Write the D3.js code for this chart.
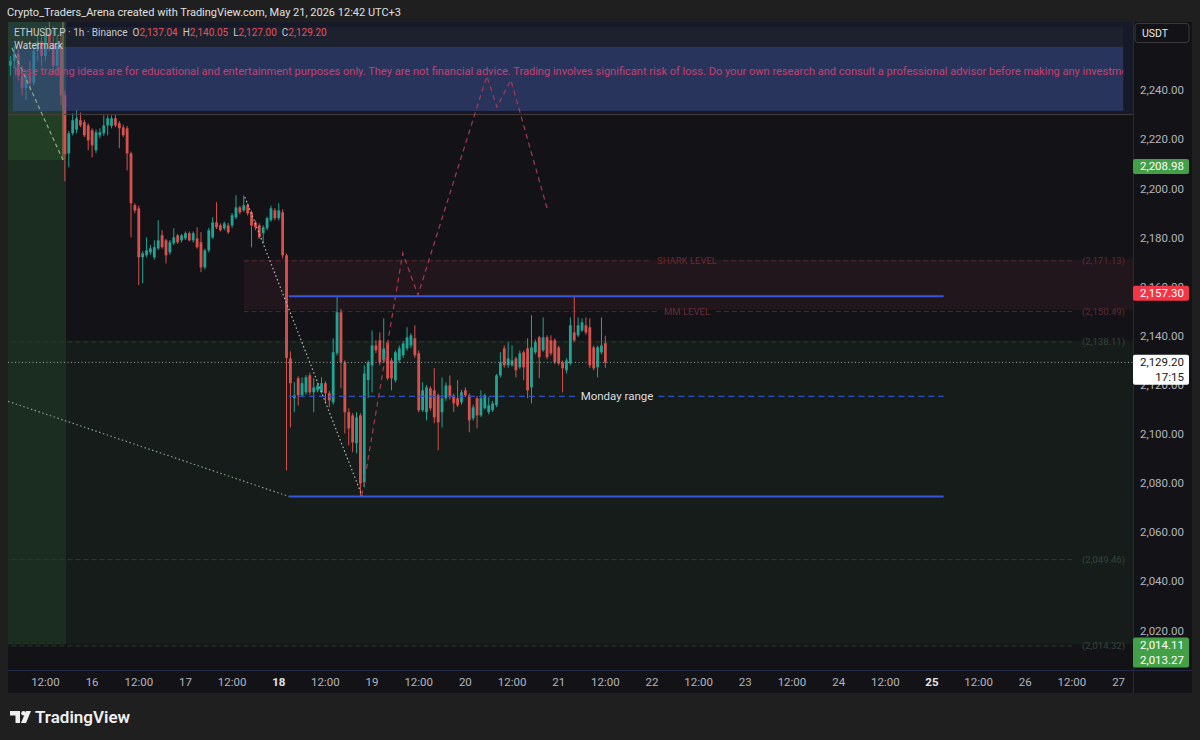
<!DOCTYPE html>
<html><head><meta charset="utf-8">
<script src="https://cdn.jsdelivr.net/npm/d3@7"></script>
<style>
html,body{margin:0;padding:0;background:#1f1f1f;}
svg{display:block;font-family:Roboto,"Noto Sans",Arial,sans-serif;}
</style></head><body>
<svg id="c" width="1200" height="740"></svg>
<script>
// ---------------- DATA ----------------
const firstBarHour = 3; // bars are hourly, first one May 15 03:00 (hours counted from May 15 00:00)
const opens = [2250,2252,2255,2246,2241,2246,2243,2256,2260,2254,2263,2259,2250,2258,2238,
2214.3,2222.5,2224,2227.8,2227,2225.7,2223.7,2215.6,2221.7,2222.5,2225.7,2225.5,2228.6,2226.6,2224.9,2224.5,2214.3,2193.2,2191.9,2172,2172.8,2174,2172,2175.6,2181,2178.9,2174,2177.7,2180.9,2178.9,2179.7,2181.8,2178.9,2179.7,2178.1,2167.9,2174.8,2180.1,2186.2,2185,2183.8,2185,2185,2188.3,2192.3,2191.1,2193.2,2190.3,2186.2,2185,2181.8,2183.8,2187.1,2191.1,2187.9,2190.3,
2172.8,2130.8,2114.6,2122.7,2115.8,2117,2123.9,2117,2117.8,2117,2120.7,2116.6,2112.9,2132.9,2149.6,2129.2,2108.9,2107.6,2096.2,2107.6,2080.3,2122,2128,2136.1,2138.2,2130,2137.4,2130,2121.9,2130,2132.1,2134.9,2136.1,2139,2132.9,2109.7,2108.9,2118.6,2117.8,2115.8,2108.9,2114.6,2119.8,2115.8,2114.6,2112.9,2117.8,2115.8,2106.4,2114.6,2107.6,2110.5,2108.9,2109.7,2111.7,2123.9,2134.9,2128,2128,2130.8,2127.2,2133.3,2134.9,2119,2133.3,2139.4,2134.1,2139.4,2138.2,2138.2,2135.3,2129.2,2126,2128.8,2141.4,2140.2,2142.2,2144.3,2143.5,2135.3,2127.2,2133.3,2137.04];
const highs = [2254,2258,2257,2250,2248,2252,2258,2264,2262,2266,2268,2266,2262,2264,2240,
2223.5,2230.6,2231.9,2231,2228,2226.5,2224.5,2224,2224.5,2229.8,2229.8,2229.8,2230,2227.5,2226,2225.5,2215,2194,2193,2174.5,2180.1,2177,2178.9,2187.1,2183,2179.5,2179,2183.8,2181.5,2181.5,2182.5,2182.5,2182.5,2184.2,2182.2,2175.5,2184,2188.3,2194.4,2185.8,2186.5,2186,2190,2197.2,2193,2197.2,2194,2191,2187,2185.8,2185,2188.5,2193,2192,2194,2191.5,
2173.5,2133.7,2121.1,2123.5,2123.1,2124,2125,2122.7,2121,2123.1,2121.5,2117.5,2139,2156.1,2151,2130,2110.5,2108.5,2108.9,2108.5,2128,2130,2142.2,2138.2,2141.4,2147.1,2138,2131,2134,2136,2138,2143.5,2141,2144.3,2134,2121.1,2120,2119.5,2126.8,2116.5,2123.1,2121,2123.9,2116.5,2121.9,2118,2119,2116.5,2112,2115.5,2117.8,2116.5,2115,2113.5,2124.5,2133.3,2136.1,2137.4,2136.1,2131.5,2134,2134,2139,2148.4,2138.5,2140,2147.5,2140.2,2140.2,2139,2136,2130,2131,2147.5,2156.1,2147.5,2147.1,2147.5,2147.1,2136,2136,2147.5,2140.05];
const lows = [2246,2249,2244,2238,2236,2240,2242,2252,2250,2252,2256,2247,2246,2234,2203,
2208.6,2221.7,2222.5,2225,2221,2215.6,2212.7,2214.5,2220.5,2221.5,2221.7,2224.5,2225,2216.4,2221,2207.4,2180.1,2190,2160.6,2161.4,2172,2173,2171,2175,2175.5,2169.5,2173,2177,2177.5,2178,2179,2178.5,2178,2175.5,2165.9,2167,2174,2179.5,2183.5,2182.5,2183,2181.5,2184,2187.5,2189.5,2190.5,2189,2176.1,2183,2179.5,2177.7,2183,2186.5,2187,2187,2171.5,
2085.2,2102.7,2108.9,2111.7,2115,2116,2116,2108.9,2117,2116.5,2112.5,2110.9,2112,2132,2118.6,2100.3,2095.4,2092.6,2092.2,2074.6,2078.3,2114.6,2117,2133,2128,2129,2121.9,2117.8,2121,2129,2131,2134,2135,2131,2108.9,2109,2105.6,2109.5,2104.4,2093.4,2102.7,2113.5,2114,2108.9,2111,2112,2115,2100.7,2105.5,2102.3,2107,2110,2108,2109,2111,2123,2127,2127,2127.5,2123.1,2126.5,2121.9,2114.6,2112.5,2132.5,2122.7,2133.5,2130.5,2132,2128.5,2128,2117,2124.7,2128,2137.5,2139.5,2141.5,2140.5,2127,2126,2123.1,2132.5,2127.00];
const closes = [2252,2255,2246,2241,2246,2243,2256,2260,2254,2263,2259,2250,2258,2238,2214,
2222.5,2227.8,2228.6,2225.7,2221.7,2219.6,2217.6,2222.9,2222.9,2225.7,2228.6,2228.6,2225.7,2224.5,2221.7,2214.3,2194,2191.1,2172,2173.6,2174.8,2175.6,2176.1,2178.9,2176.1,2172.8,2178.1,2180.1,2178.1,2180.9,2181.8,2178.9,2181.8,2176.1,2167.9,2174.8,2183,2186.2,2184.2,2183,2185.8,2182.2,2189.1,2192.3,2190.3,2193.2,2189.9,2185,2184.2,2180.1,2184.2,2187.9,2191.9,2187.9,2191.1,2172.8,
2131,2120.7,2115.8,2115.8,2120.7,2123.1,2117,2119,2119.8,2120.7,2116.6,2113.7,2133.3,2149.6,2129.2,2108.9,2102.3,2096.6,2106.8,2079.9,2124.7,2129.2,2136.1,2134.1,2129.2,2134.9,2122.7,2122.7,2133.3,2134.9,2136.9,2139.4,2140.2,2132.1,2109.7,2117.8,2119,2110.5,2106.8,2104.8,2114.6,2119.8,2115,2112.5,2111.7,2117,2115.8,2105.6,2110.9,2107.6,2114.6,2115.8,2111.7,2112.5,2123.9,2129.2,2128,2130.8,2130,2126,2132.9,2127.2,2117.8,2135.3,2137.4,2131.3,2139.4,2131.3,2132.9,2129.2,2128.8,2126.8,2130,2144.3,2138.2,2144.3,2145.5,2141.4,2128,2126.8,2135.3,2136.1,2129.20];

const priceTicks = [2020,2040,2060,2080,2100,2120,2140,2160,2180,2200,2220,2240];
const timeTickLabels = ["12:00","16","12:00","17","12:00","18","12:00","19","12:00","20","12:00","21","12:00","22","12:00","23","12:00","24","12:00","25","12:00","26","12:00","27"];
const boldTimeLabels = ["18","25"];

const levelNames  = ["SHARK LEVEL","MM LEVEL","","",""];
const levelValues = [2171.13, 2150.49, 2138.11, 2049.46, 2014.32];
const levelStartHour = [63, 63, -5, -5, -5];

const rangeHigh = 2156.1, rangeLow = 2074.6, rangeMid = 2115.35;
const rangeStartHour = 74.6, rangeEndHour = 243;

const whiteTrendHours = [63.3, 93.4], whiteTrendPrices = [2196.5, 2075.0];
const greenTrendHours = [2.4, 74.6], greenTrendPrices = [2113.3, 2074.6];
const greenDashHours = [3.4, 16.5], greenDashPrices = [2257.2, 2211.6];
const projHours  = [93.4, 103.9, 107.8, 125.5, 128.1, 131.7, 141.0];
const projPrices = [2075.0, 2173.7, 2156.6, 2245.8, 2233.2, 2244.2, 2192.0];

const lastPrice = 2129.20, lastCountdown = "17:15";
const tagGreenTop = 2208.98, tagRed = 2157.30, tagGreenBottom = [2014.11, 2013.27];
const legendValues = [["O",2137.04],["H",2140.05],["L",2127.00],["C",2129.20]];

// ---------------- LAYOUT ----------------
const svg = d3.select("#c");
const L = 8, R = 1192, TOP = 22, BOT = 693, AX = 1133, TAXIS = 670;
const H0 = Date.UTC(2026,4,15,0,0);
const T = h => new Date(H0 + h*3600e3);
const x = d3.scaleUtc().domain([T(0), T(288)]).range([-1.2, 1118.6]);
const y = d3.scaleLinear().domain([2020, 2240]).range([630.5, 90.3]);
const xh = h => x(T(h));
const fmt = d3.format(",.2f");

const UP = "#22a393", DN = "#d9514e";

svg.append("rect").attr("width",1200).attr("height",740).attr("fill","#1f1f1f");
svg.append("rect").attr("x",L).attr("y",TOP).attr("width",R-L).attr("height",BOT-TOP).attr("fill","#131317");

const defs = svg.append("defs");
defs.append("clipPath").attr("id","plot").append("rect").attr("x",L).attr("y",TOP).attr("width",AX-L).attr("height",TAXIS-TOP);
defs.append("clipPath").attr("id","boxclip").append("rect").attr("x",xh(3.6)).attr("y",TOP).attr("width",xh(289.2)-xh(3.6)).attr("height",200);

const g = svg.append("g").attr("clip-path","url(#plot)");

// zones
g.append("rect").attr("x",L).attr("width",AX-L)
  .attr("y",y(levelValues[2])).attr("height",y(levelValues[4])-y(levelValues[2])).attr("fill","#151c1a");
g.append("rect").attr("x",xh(63)).attr("width",AX-xh(63))
  .attr("y",y(levelValues[0])).attr("height",y(levelValues[1])-y(levelValues[0])).attr("fill","#21161c");
// left green strip
g.append("rect").attr("x",L).attr("width",xh(17.3)-L).attr("y",TOP).attr("height",y(levelValues[4])-TOP).attr("fill","#1b2c20");
g.append("rect").attr("x",L).attr("width",xh(17.3)-L).attr("y",TOP).attr("height",y(2211.6)-TOP).attr("fill","#223f26");

// level lines
levelValues.forEach((v,i)=>{
  const red = i<2;
  const col = red ? "#5a2530" : "#2e3b33";
  const yy = y(v)+1.5;
  const x0 = xh(levelStartHour[i]), x1 = 1072;
  if (levelNames[i]) {
    const cx = xh(177);
    const t = g.append("text").attr("x",cx).attr("y",yy+3.5).attr("text-anchor","middle")
      .attr("font-size",9.5).attr("fill",red?"#6b2a36":"#3a4a3e").text(levelNames[i]);
    const w = t.node().getComputedTextLength();
    g.append("line").attr("x1",x0).attr("x2",cx-w/2-6).attr("y1",yy).attr("y2",yy).attr("stroke",col).attr("stroke-dasharray","5,3");
    g.append("line").attr("x1",cx+w/2+6).attr("x2",x1).attr("y1",yy).attr("y2",yy).attr("stroke",col).attr("stroke-dasharray","5,3");
  } else {
    g.append("line").attr("x1",x0).attr("x2",x1).attr("y1",yy).attr("y2",yy).attr("stroke",col).attr("stroke-dasharray","5,3");
  }
  g.append("text").attr("x",1125).attr("y",yy+3.5).attr("text-anchor","end").attr("font-size",9.5)
    .attr("fill",red?"#5e2a34":"#34453a").text("("+fmt(v)+")");
});

// candles
const n = Math.min(opens.length, highs.length, lows.length, closes.length);
const bars = d3.range(n).map(i=>({t:T(firstBarHour+i),o:opens[i],h:highs[i],l:lows[i],c:closes[i]}));
const cg = g.append("g");
bars.forEach(b=>{
  const col = b.c>=b.o ? UP : DN;
  const cx = x(b.t);
  cg.append("line").attr("x1",cx).attr("x2",cx).attr("y1",y(b.h)).attr("y2",y(b.l)).attr("stroke",col).attr("stroke-width",1);
  const top = y(Math.max(b.o,b.c)), bot = y(Math.min(b.o,b.c));
  cg.append("rect").attr("x",cx-1.4).attr("width",2.8).attr("y",top).attr("height",Math.max(1,bot-top)).attr("fill",col);
});

// top band + disclaimer box (drawn over candles, semi transparent)
g.append("rect").attr("x",L).attr("y",TOP).attr("width",AX-L).attr("height",y(2230.3)-TOP).attr("fill","rgba(40,60,130,0.16)");
g.append("rect").attr("x",L).attr("y",TOP+5).attr("width",xh(289.2)-L).attr("height",20).attr("fill","rgba(60,60,66,0.22)");
g.append("rect").attr("x",xh(3.6)).attr("y",y(2257.7)).attr("width",xh(289.2)-xh(3.6)).attr("height",y(2231.6)-y(2257.7)).attr("fill","rgba(72,92,172,0.40)");
g.append("line").attr("x1",L).attr("x2",AX).attr("y1",y(2230.3)+0.5).attr("y2",y(2230.3)+0.5).attr("stroke","#4a3e3c");
g.append("line").attr("x1",xh(16.5)).attr("x2",xh(16.5)).attr("y1",TOP).attr("y2",y(2211.6)).attr("stroke","#8a7648").attr("stroke-width",1.2);

const disc = "These trading ideas are for educational and entertainment purposes only. They are not financial advice. Trading involves significant risk of loss. Do your own research and consult a professional advisor before making any investment decisions.";
const visiblePart = "hese trading ideas are for educational and entertainment purposes only. They are not financial advice. Trading involves significant risk of loss. Do your own research and consult a professional advisor before making any investm";
const tmp = svg.append("text").attr("font-size",12).text(visiblePart);
const wv = tmp.node().getComputedTextLength();
const fs = 12*(1108/wv);
tmp.attr("font-size",fs).text("T");
const wT = tmp.node().getComputedTextLength(); tmp.remove();
svg.append("g").attr("clip-path","url(#boxclip)").append("text")
  .attr("x",14-wT).attr("y",75).attr("font-size",fs).attr("fill","#c4406f").text(disc);

// range lines
const rx0 = xh(rangeStartHour), rx1 = xh(rangeEndHour);
g.append("line").attr("x1",rx0).attr("x2",rx1).attr("y1",y(rangeHigh)).attr("y2",y(rangeHigh)).attr("stroke","#3656e0").attr("stroke-width",2);
g.append("line").attr("x1",rx0).attr("x2",rx1).attr("y1",y(rangeLow)).attr("y2",y(rangeLow)).attr("stroke","#3656e0").attr("stroke-width",2);
const mcx = xh(159);
const mt = g.append("text").attr("x",mcx).attr("y",y(rangeMid)+4).attr("text-anchor","middle")
  .attr("font-size",11.5).attr("fill","#dcdde2").text("Monday range");
const mw = mt.node().getComputedTextLength();
g.append("line").attr("x1",rx0).attr("x2",mcx-mw/2-5).attr("y1",y(rangeMid)).attr("y2",y(rangeMid)).attr("stroke","#2f4fc4").attr("stroke-width",1.2).attr("stroke-dasharray","6,4");
g.append("line").attr("x1",mcx+mw/2+5).attr("x2",rx1).attr("y1",y(rangeMid)).attr("y2",y(rangeMid)).attr("stroke","#2f4fc4").attr("stroke-width",1.2).attr("stroke-dasharray","6,4");

// trend lines
const line = d3.line().x(d=>xh(d[0])).y(d=>y(d[1]));
g.append("path").attr("d",line(d3.zip(whiteTrendHours,whiteTrendPrices))).attr("fill","none").attr("stroke","#b8b8bc").attr("stroke-width",1.2).attr("stroke-dasharray","1.5,2.5");
g.append("path").attr("d",line(d3.zip(greenTrendHours,greenTrendPrices))).attr("fill","none").attr("stroke","#8aa08e").attr("stroke-width",1.2).attr("stroke-dasharray","1.5,2.5");
g.append("path").attr("d",line(d3.zip(greenDashHours,greenDashPrices))).attr("fill","none").attr("stroke","#7fb07f").attr("stroke-width",1.2).attr("stroke-dasharray","4,3");
g.append("path").attr("d",line(d3.zip(projHours,projPrices))).attr("fill","none").attr("stroke","#a8384f").attr("stroke-width",1.2).attr("stroke-dasharray","5,4");

// last price line
g.append("line").attr("x1",L).attr("x2",AX).attr("y1",y(lastPrice)).attr("y2",y(lastPrice)).attr("stroke","#a0a3ab").attr("stroke-dasharray","1,2.5");

// legend
const lg = svg.append("text").attr("x",14).attr("y",36).attr("font-size",10).attr("fill","#c9cbd1").style("white-space","pre");
lg.append("tspan").text("ETHUSDT.P · 1h · Binance ");
legendValues.forEach(([k,v])=>{
  lg.append("tspan").attr("fill","#c9cbd1").text(" "+k);
  lg.append("tspan").attr("fill","#e2525c").text(fmt(v)+" ");
});
svg.append("text").attr("x",14).attr("y",48.5).attr("font-size",10).attr("fill","#cfd1d6").text("Watermark");

// axes frame
svg.append("line").attr("x1",AX+0.5).attr("x2",AX+0.5).attr("y1",TOP).attr("y2",BOT).attr("stroke","#222944");
svg.append("line").attr("x1",L).attr("x2",R).attr("y1",TAXIS+0.5).attr("y2",TAXIS+0.5).attr("stroke","#222944");

// price axis
priceTicks.forEach(p=>{
  svg.append("text").attr("x",1184).attr("y",y(p)+4).attr("text-anchor","end").attr("font-size",11.5).attr("fill","#b2b5be").text(fmt(p));
});
function tag(val, lines, fill, txt){
  const h = lines.length*15;
  const top = y(val) - 7.5;
  svg.append("rect").attr("x",1133).attr("y",top).attr("width",56).attr("height",h).attr("rx",2).attr("fill",fill);
  lines.forEach((s,i)=>svg.append("text").attr("x",1184).attr("y",top+11.5+i*15).attr("text-anchor","end").attr("font-size",11.5).attr("fill",txt).text(s));
}
tag(tagGreenTop,[fmt(tagGreenTop)],"#43a047","#ffffff");
tag(tagRed,[fmt(tagRed)],"#f23645","#ffffff");
tag(lastPrice,[fmt(lastPrice),lastCountdown],"#ffffff","#131722");
tag(tagGreenBottom[0],tagGreenBottom.map(fmt),"#43a047","#ffffff");
svg.append("rect").attr("x",1135).attr("y",23.5).attr("width",54).attr("height",19).attr("rx",3).attr("fill","#131317").attr("stroke","#3a3a3e");
svg.append("text").attr("x",1142).attr("y",37).attr("font-size",10.5).attr("fill","#e8e8ea").text("USDT");

// time axis
timeTickLabels.forEach((s,i)=>{
  const t = T(12+i*12);
  svg.append("text").attr("x",x(t)).attr("y",686).attr("text-anchor","middle").attr("font-size",11.5)
    .attr("font-weight",boldTimeLabels.includes(s)?"bold":"normal")
    .attr("fill",boldTimeLabels.includes(s)?"#e3e4e8":"#b2b5be").text(s);
});

// header
svg.append("text").attr("x",7).attr("y",16).attr("font-size",11).attr("fill","#e0e0e0")
  .text("Crypto_Traders_Arena created with TradingView.com, May 21, 2026 12:42 UTC+3");

// footer logo
const lgG = svg.append("g").attr("fill","#f0f0f0");
lgG.append("path").attr("d","M10 711 h10 v12 h-4.5 v-7.5 h-5.5 z");
lgG.append("circle").attr("cx",23.5).attr("cy",713.2).attr("r",2.3);
lgG.append("path").attr("d","M26 711 h5 l-5 12 h-5 z");
svg.append("text").attr("x",35).attr("y",723).attr("font-size",17).attr("font-weight",600).attr("fill","#f0f0f0").text("TradingView");
</script>
</body></html>
